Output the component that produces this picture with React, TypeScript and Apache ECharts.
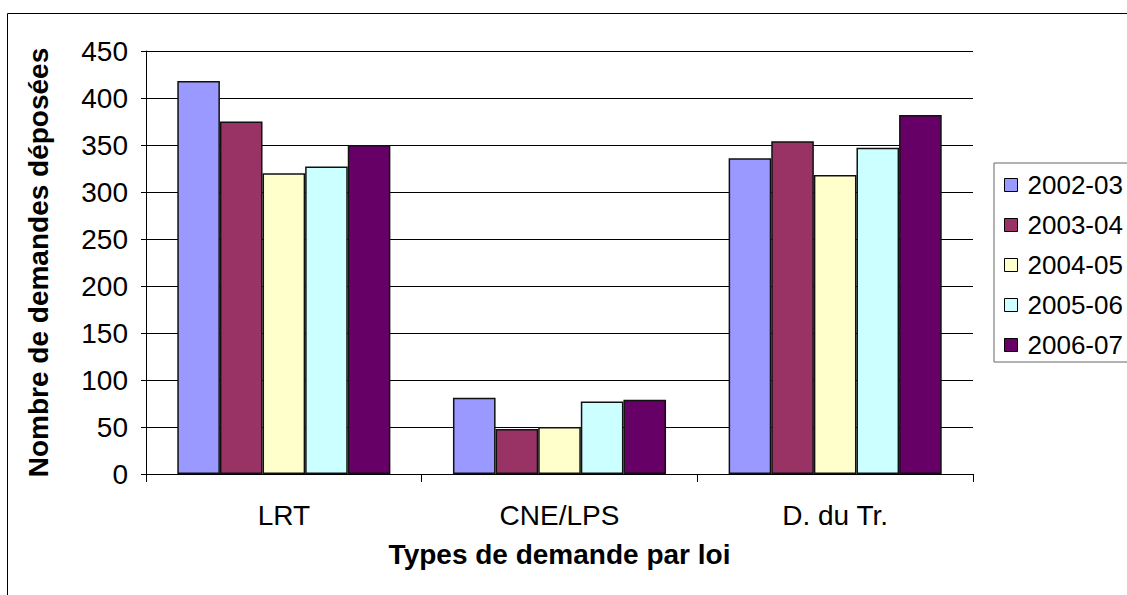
import React, { useEffect, useRef } from "react";
import * as echarts from "echarts";

const categories = ["LRT", "CNE/LPS", "D. du Tr."];
const seriesNames = ["2002-03", "2003-04", "2004-05", "2005-06", "2006-07"];
const v2002 = [418, 81, 336];
const v2003 = [375, 48, 354];
const v2004 = [320, 50, 318];
const v2005 = [327, 77, 347];
const v2006 = [350, 79, 382];
const seriesValues = [v2002, v2003, v2004, v2005, v2006];
const colors = ["#9999FF", "#993366", "#FFFFCC", "#CCFFFF", "#660066"];
const yTitle = "Nombre de demandes déposées";
const xTitle = "Types de demande par loi";

const FONT = "Arial, 'Liberation Sans', sans-serif";

export default function App() {
  const ref = useRef<HTMLDivElement>(null);
  useEffect(() => {
    if (!ref.current) return;
    const chart = echarts.init(ref.current, null, { renderer: "svg" });
    chart.setOption({
      animation: false,
      backgroundColor: "#fff",
      textStyle: { fontFamily: FONT, color: "#000" },
      graphic: [
        {
          type: "rect",
          z: -10,
          silent: true,
          shape: { x: 7.5, y: 13.5, width: 1300, height: 700 },
          style: { fill: "none", stroke: "#000", lineWidth: 1 },
        },
      ],
      grid: { left: 146, top: 51, width: 827, height: 423, containLabel: false },
      legend: {
        orient: "vertical",
        left: 994,
        top: 163,
        padding: [9, 30, 4, 10],
        itemWidth: 13,
        itemHeight: 13,
        itemGap: 14,
        borderColor: "#666",
        borderWidth: 1,
        icon: "rect",
        itemStyle: { borderColor: "#000", borderWidth: 1 },
        textStyle: { fontFamily: FONT, fontSize: 26, lineHeight: 26, color: "#000", padding: [0, 0, 0, 5] },
        data: seriesNames,
      },
      xAxis: {
        type: "category",
        data: categories,
        axisLine: { lineStyle: { color: "#000", width: 1 } },
        axisTick: { show: true, length: 8, lineStyle: { color: "#000" } },
        axisLabel: { fontFamily: FONT, fontSize: 28, color: "#000", margin: 27 },
        name: xTitle,
        nameLocation: "middle",
        nameGap: 66,
        nameTextStyle: { fontFamily: FONT, fontSize: 28, fontWeight: "bold", color: "#000" },
      },
      yAxis: {
        type: "value",
        min: 0,
        max: 450,
        interval: 50,
        axisLine: { show: true, lineStyle: { color: "#000", width: 1 } },
        axisTick: { show: true, length: 5, lineStyle: { color: "#000" } },
        axisLabel: { fontFamily: FONT, fontSize: 28, color: "#000", margin: 18 },
        splitLine: { show: true, lineStyle: { color: "#000", width: 1 } },
        name: yTitle,
        nameLocation: "middle",
        nameGap: 94,
        nameRotate: 90,
        nameTextStyle: { fontFamily: FONT, fontSize: 28, fontWeight: "bold", color: "#000" },
      },
      series: seriesNames.map((name, i) => ({
        name,
        type: "bar",
        data: seriesValues[i],
        barGap: "0%",
        barCategoryGap: "22.7%",
        itemStyle: { color: colors[i], borderColor: "#111", borderWidth: 1.5 },
      })),
    });
    return () => chart.dispose();
  }, []);
  return (
    <div
      ref={ref}
      style={{ position: "absolute", left: 0, top: 0, width: 1127, height: 595 }}
    />
  );
}
